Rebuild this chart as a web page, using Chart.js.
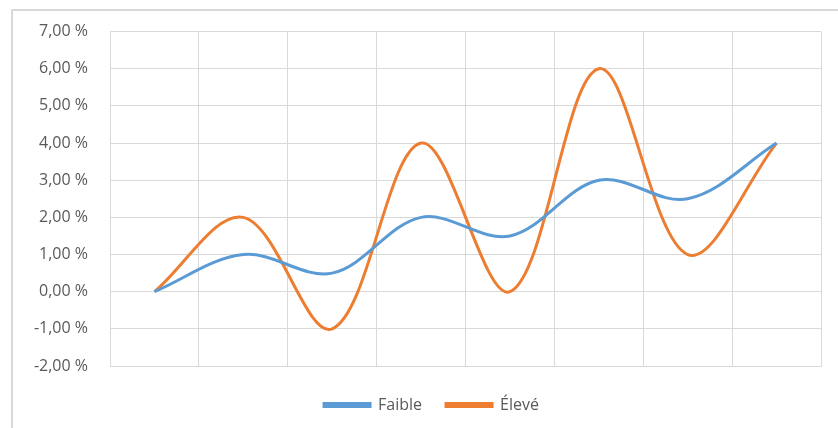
<!DOCTYPE html>
<html>
<head>
<meta charset="utf-8">
<script src="https://cdn.jsdelivr.net/npm/chart.js@4/dist/chart.umd.min.js"></script>
<style>
  html, body { margin: 0; padding: 0; background: #fff; }
  #wrap { position: relative; width: 838px; height: 428px; }
  #frame { position: absolute; left: 11px; top: 9px; width: 840px; height: 430px;
           border-top: 2px solid #d9d9d9; border-left: 2px solid #d9d9d9; }
  canvas { position: absolute; left: 0; top: 0; }
</style>
</head>
<body>
<div id="wrap">
  <div id="frame"></div>
  <canvas id="myChart" width="838" height="428"></canvas>
</div>
<script>
// Data
const categories = ['1', '2', '3', '4', '5', '6', '7', '8'];
const faible = [0, 1, 0.5, 2, 1.5, 3, 2.5, 4];
const eleve = [0, 2, -1, 4, 0, 6, 1, 4];
const yMin = -2, yMax = 7, yStep = 1;

const blue = '#5B9BD5';
const orange = '#ED7D31';
const gridColor = '#d9d9d9';
const textColor = '#595959';

// nudge the legend a bit right, like the original
const shiftLegend = {
  id: 'shiftLegend',
  afterLayout(chart) {
    chart.legend.left += 21;
    chart.legend.right += 21;
  }
};

const ctx = document.getElementById('myChart').getContext('2d');
new Chart(ctx, {
  type: 'line',
  data: {
    labels: categories,
    datasets: [
      { label: 'Faible', data: faible, borderColor: blue, backgroundColor: blue, borderWidth: 3,
        pointRadius: 0, tension: 0.35 },
      { label: 'Élevé', data: eleve, borderColor: orange, backgroundColor: orange, borderWidth: 3,
        pointRadius: 0, tension: 0.35 }
    ]
  },
  options: {
    responsive: false,
    animation: false,
    layout: { padding: { left: 0, right: 17, top: 31, bottom: 5 } },
    plugins: {
      tooltip: { enabled: false },
      legend: {
        position: 'bottom',
        labels: {
          boxWidth: 46, boxHeight: 3, padding: 24,
          color: textColor, font: { family: 'Open Sans', size: 16 }
        }
      }
    },
    scales: {
      x: {
        offset: true,
        grid: { offset: true, color: gridColor, drawTicks: false },
        border: { color: gridColor },
        ticks: { display: false },
        afterFit: (scale) => { scale.height = 7; }
      },
      y: {
        min: yMin, max: yMax,
        grid: { color: gridColor, drawTicks: false },
        border: { color: gridColor },
        ticks: {
          stepSize: yStep, padding: 22, color: textColor, font: { family: 'Open Sans', size: 16 },
          callback: (v) => v.toFixed(2).replace('.', ',') + ' %'
        },
        afterFit: (scale) => { scale.width = 110; }
      }
    }
  },
  plugins: [shiftLegend]
});
</script>
</body>
</html>
